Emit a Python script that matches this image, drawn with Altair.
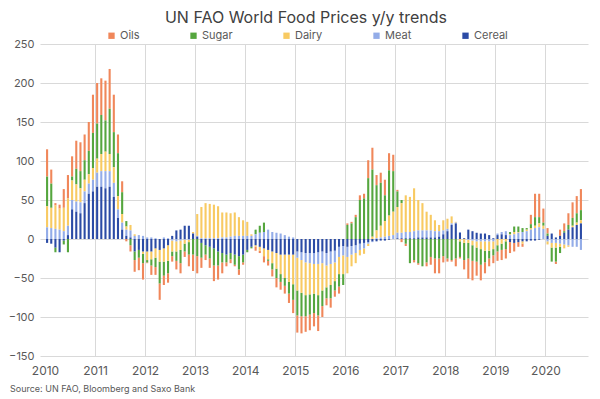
import altair as alt
import pandas as pd

title_text = "UN FAO World Food Prices y/y trends"
source_text = "Source:  UN FAO, Bloomberg and Saxo Bank"
series_names = ["Oils", "Sugar", "Dairy", "Meat", "Cereal"]
series_colors = ["#F0875A", "#55A63E", "#F8CA62", "#93ACE8", "#2B4BA5"]
stack_rank = {"Cereal": 0, "Meat": 1, "Dairy": 2, "Sugar": 3, "Oils": 4}
start_year = 2010
year_labels = list(range(2010, 2021))
y_ticks = [-150, -100, -50, 0, 50, 100, 150, 200, 250]

oils = [
    35, 18, 3, 5, 24, 30, 26, 36, 37, 33, 37, 49,
    52, 47, 51, 51, 48, 24, 14, -3, -8, -15, -16, -21,
    -1, -12, -10, -21, -12, -12, -7, -11, -13, -7, -15, -21,
    -22, -13, -7, -12, -20, -18, -14, -5, -5, -2, -7, -3,
    0, 0, -5, -3, -8, -6, -9, -12, -10, -10, -12, -17,
    -22, -22, -20, -20, -17, -20, -14, -9, -12, -8, -9, 0,
    2, 2, 3, 6, 6, 23, 28, 13, 13, 20, 22, 21,
    2, -4, -3, 0, -3, -2, 0, -5, -10, -19, -19, -8,
    -4, -2, -10, -2, -12, -26, -25, -18, -20, -14, -10, -10,
    -12, -13, -12, -14, -11, -6, -4, 0, 12, 30, 30, 18,
    7, 0, -3, 8, 10, 15, 20, 22, 27,
]
sugar = [
    38, 31, -6, 0, -5, -17, 5, 20, 22, 25, 30, 45,
    45, 50, 40, 58, 45, 55, 28, 7, -8, -11, -10, -12,
    -3, -8, -12, -28, -18, -16, -6, -12, -17, -10, -16, -20,
    -22, -19, -12, -15, -22, -18, -12, -10, -8, -13, -17, -10,
    -3, -2, 6, 9, 12, -2, -8, -12, -10, -10, -15, -20,
    -32, -30, -27, -26, -25, -26, -20, -14, -17, -12, -16, -14,
    18, 20, 28, 50, 52, 78, 86, 58, 55, 33, 58, 52,
    20, 4, -6, -31, -27, -31, -35, -30, -23, -25, -25, -22,
    -25, -27, -25, -20, -22, -20, -20, -18, -20, -15, -10, -8,
    -8, -8, -10, 3, 7, 7, 5, 2, 5, 11, 8, 4,
    3, -18, -18, -8, 2, 6, 10, 12, 13,
]
dairy = [
    27, 26, 30, 27, 30, 35, 25, 22, 18, 15, 12, 15,
    18, 22, 25, 22, 20, 17, 11, 4, 7, 2, 0, -3,
    -11, -10, -12, -15, -17, -20, -14, -13, -12, -5, -3, 2,
    28, 40, 45, 44, 43, 41, 32, 32, 30, 30, 24, 20,
    18, 2, -2, -5, -10, -12, -15, -20, -25, -30, -35, -38,
    -42, -42, -42, -40, -38, -40, -35, -28, -27, -24, -22, -24,
    -21, -15, -13, -7, -7, -3, 3, 10, 15, 20, 26, 30,
    33, 38, 47, 45, 55, 39, 35, 24, 20, 14, 8, 13,
    13, 9, 1, -3, -5, -4, -6, -8, -10, -12, -12, -10,
    -8, -6, -3, 1, 3, 1, -3, 2, 2, 3, 5, 4,
    -4, -6, -6, -4, -5, -2, 2, 3, 4,
]
meat = [
    15, 14, 13, 12, 10, 12, 12, 13, 14, 15, 13, 15,
    18, 20, 22, 20, 18, 11, 9, 8, 9, 4, 5, 4,
    2, 2, 1, 0, 2, 1, -2, -3, -2, -1, -1, 0,
    1, 1, 1, 1, 1, 1, 2, 2, 3, 4, 4, 4,
    4, 4, 6, 8, 9, 12, 9, 8, 7, 5, 3, 2,
    -8, -10, -12, -13, -14, -15, -15, -16, -16, -15, -13, -12,
    -13, -11, -10, -8, -7, -2, -1, 1, 2, 3, 4, 5,
    7, 7, 8, 8, 9, 9, 9, 9, 9, 8, 7, 5,
    3, 2, 1, 1, 0, -1, -2, -3, -3, -3, -3, -3,
    2, 3, 5, 5, 6, 8, 9, 10, 12, 14, 15, 13,
    -3, -5, -5, -6, -7, -8, -10, -10, -14,
]
cereal = [
    -5, -6, -11, -17, -2, 5, 38, 35, 33, 46, 58, 61,
    67, 67, 65, 67, 54, 27, 12, 4, 2, -16, -14, -16,
    -16, -16, -12, -14, -12, -8, 4, 11, 12, 17, 17, 7,
    3, -5, -8, -10, -12, -16, -18, -20, -18, -20, -22, -20,
    -14, -10, -8, -10, -12, -14, -16, -18, -20, -20, -20, -20,
    -16, -17, -18, -18, -18, -17, -16, -18, -16, -15, -10, -9,
    -10, -9, -8, -6, -5, -4, -3, -3, -2, -2, -1, 0,
    1, 1, 1, 1, 1, 2, 2, 2, 2, 2, 3, 6,
    10, 18, 20, 8, 1, 12, 10, 8, 7, 7, 5, 1,
    5, 6, 5, -4, -5, -4, -3, -3, -2, -2, -1, 0,
    4, 7, 2, 4, 8, 12, 15, 18, 20,
]

values = {"Oils": oils, "Sugar": sugar, "Dairy": dairy, "Meat": meat, "Cereal": cereal}
n_months = len(oils)
rows = []
for name in series_names:
    for i, v in enumerate(values[name]):
        rows.append({"m": i + 0.5, "series": name, "value": v, "rank": stack_rank[name]})
df = pd.DataFrame(rows)

label_color = "#595959"
grid_color = "#D9D9D9"
font = "Inter"

bars = alt.Chart(df).mark_bar(size=2.1).encode(
    x=alt.X(
        "m:Q",
        scale=alt.Scale(domain=[0, n_months], nice=False, zero=False),
        axis=alt.Axis(
            values=[(y - start_year) * 12 for y in year_labels],
            labelExpr=f"{start_year} + datum.value / 12",
            title=None,
            ticks=False,
            domain=False,
            grid=True,
            gridColor={"condition": {"test": "datum.value === 0", "value": "transparent"}, "value": grid_color},
            labelFontSize=12,
            labelColor=label_color,
            labelFont=font,
            labelPadding=9,
            labelFlush=False,
            labelAlign="center",
            labelBound=False,
        ),
    ),
    y=alt.Y(
        "sum(value):Q",
        stack="zero",
        scale=alt.Scale(domain=[-150, 250], nice=False),
        axis=alt.Axis(
            values=y_ticks,
            title=None,
            ticks=False,
            domain=False,
            gridColor=grid_color,
            labelFontSize=11,
            labelColor=label_color,
            labelFont=font,
            labelPadding=6,
        ),
    ),
    color=alt.Color(
        "series:N",
        scale=alt.Scale(domain=series_names, range=series_colors),
        legend=alt.Legend(
            orient="none",
            legendX=66,
            legendY=-14,
            direction="horizontal",
            title=None,
            symbolType="square",
            symbolSize=40,
            symbolStrokeWidth=0,
            labelFontSize=11,
            labelColor=label_color,
            labelFont=font,
            columnPadding=48,
            labelOffset=3,
        ),
    ),
    order=alt.Order("rank:Q", sort="ascending"),
)

title = alt.Chart(pd.DataFrame({"t": [title_text]})).mark_text(
    fontSize=16, font=font, color="#404040", align="center", baseline="middle"
).encode(text="t:N", x=alt.value(266), y=alt.value(-26))

source = alt.Chart(pd.DataFrame({"t": [source_text]})).mark_text(
    fontSize=9, font=font, color=label_color, align="left", baseline="middle"
).encode(text="t:N", x=alt.value(-30), y=alt.value(345))

chart = alt.layer(bars, title, source).properties(
    width=548,
    height=312,
    autosize=alt.AutoSizeParams(type="none"),
    padding={"left": 32, "top": 36, "right": 4, "bottom": 40},
).configure_view(stroke=None)

chart.save("out.html", embed_options={"renderer": "svg", "actions": False})
